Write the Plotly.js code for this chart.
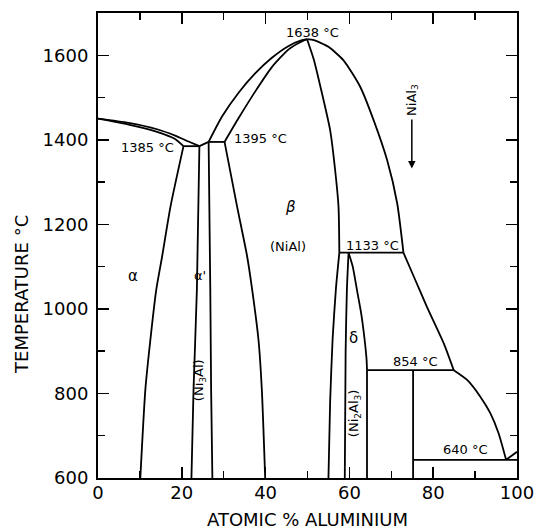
<!DOCTYPE html>
<html>
<head>
<meta charset="utf-8">
<script src="https://cdn.plot.ly/plotly-3.0.1.min.js"></script>
<style>html,body{margin:0;padding:0;background:#fff;}</style>
</head>
<body>
<div id="chart" style="width:539px;height:530px;"></div>
<script>
// Phase boundaries (x = atomic % Al, T = °C)
const alphaLiqX = [0, 7.3, 14.1, 18.4, 21.6, 24.2];
const alphaLiqT = [1450, 1440, 1425, 1410, 1396, 1385];
const alphaSolX = [0, 7.3, 14.1, 18.4, 20.4];
const alphaSolT = [1450, 1436, 1419, 1402, 1385];
const eutecticX = [20.4, 24.2];
const eutecticT = [1385, 1385];
const liqLinkX = [24.2, 26.4];
const liqLinkT = [1385, 1395];
const peritecticX = [26.4, 30.2];
const peritecticT = [1395, 1395];
const alphaSolvusX = [20.4, 17.3, 15.3, 13.9, 12.5, 11.3, 10.1];
const alphaSolvusT = [1385, 1242, 1124, 1045, 927, 809, 600];
const gammaLeftX = [24.2, 23.6, 22.8, 22.3];
const gammaLeftT = [1385, 1045, 809, 600];
const gammaRightX = [26.4, 26.8, 27.0, 27.3];
const gammaRightT = [1395, 1045, 809, 600];
const betaLeftX = [30.2, 33.2, 35.6, 36.8, 38.3, 39.1, 39.9];
const betaLeftT = [1395, 1242, 1124, 1045, 927, 809, 600];
const betaLiqLX = [26.4, 29.6, 33.6, 37.5, 41.5, 45.5, 48.5, 49.9];
const betaLiqLT = [1395, 1455, 1512, 1557, 1594, 1622, 1635, 1638];
const betaSolLX = [30.2, 33.6, 37.5, 41.5, 45.5, 48.5, 49.9];
const betaSolLT = [1395, 1452, 1514, 1572, 1614, 1632, 1638];
const betaRightUpX = [49.9, 51.5, 53.1, 55.4, 56.6, 57.4, 57.6];
const betaRightUpT = [1638, 1590, 1525, 1423, 1328, 1242, 1133];
const betaRightLowX = [57.6, 56.8, 56.0, 55.4, 55.0];
const betaRightLowT = [1133, 1050, 930, 780, 600];
const liqRightUpX = [49.9, 51.5, 53.0, 55.0, 58.6, 62.6, 65.8, 69.0, 71.4, 72.9];
const liqRightUpT = [1638, 1636, 1630, 1620, 1588, 1525, 1446, 1352, 1250, 1133];
const liqRightMidX = [72.9, 75.7, 78.5, 82.5, 84.9];
const liqRightMidT = [1133, 1069, 1005, 919, 855];
const liqRightLowX = [84.9, 88.1, 91.2, 93.6, 95.6, 97.4];
const liqRightLowT = [855, 832, 793, 754, 706, 643];
const alSideX = [97.4, 100];
const alSideT = [643, 662];
const iso1133X = [57.6, 72.9];
const iso1133T = [1133, 1133];
const iso854X = [64.2, 84.9];
const iso854T = [855, 855];
const iso640X = [75.2, 100];
const iso640T = [643, 643];
const niAl3X = [75.2, 75.2];
const niAl3T = [855, 600];
const ni2al3LeftX = [58.9, 59.1, 59.4, 59.8];
const ni2al3LeftT = [600, 900, 1045, 1133];
const ni2al3RightX = [59.8, 60.8, 61.8, 62.8, 63.6, 64.1, 64.2];
const ni2al3RightT = [1133, 1100, 1045, 990, 930, 880, 855];
const ni2al3VertX = [64.2, 64.2];
const ni2al3VertT = [855, 600];

// Tick values
const xTicks = [0, 20, 40, 60, 80, 100];
const xMinor = [10, 30, 50, 70, 90];
const yTicks = [600, 800, 1000, 1200, 1400, 1600];
const yMinor = [700, 900, 1100, 1300, 1500];

const curved = [
  [alphaLiqX, alphaLiqT], [alphaSolX, alphaSolT], [alphaSolvusX, alphaSolvusT],
  [gammaLeftX, gammaLeftT], [gammaRightX, gammaRightT], [betaLeftX, betaLeftT],
  [betaLiqLX, betaLiqLT], [betaSolLX, betaSolLT], [betaRightUpX, betaRightUpT],
  [betaRightLowX, betaRightLowT], [liqRightUpX, liqRightUpT], [liqRightMidX, liqRightMidT],
  [liqRightLowX, liqRightLowT], [ni2al3LeftX, ni2al3LeftT], [ni2al3RightX, ni2al3RightT]
];
const straight = [
  [eutecticX, eutecticT], [liqLinkX, liqLinkT], [peritecticX, peritecticT],
  [alSideX, alSideT], [iso1133X, iso1133T], [iso854X, iso854T], [iso640X, iso640T],
  [niAl3X, niAl3T], [ni2al3VertX, ni2al3VertT]
];

const traces = [];
curved.forEach(c => traces.push({
  x: c[0], y: c[1], type: 'scatter', mode: 'lines',
  line: {color: '#000', width: 1.8, shape: 'spline', smoothing: 0.6}, hoverinfo: 'skip', showlegend: false
}));
straight.forEach(c => traces.push({
  x: c[0], y: c[1], type: 'scatter', mode: 'lines',
  line: {color: '#000', width: 1.8}, hoverinfo: 'skip', showlegend: false
}));
// empty trace so the mirrored minor-tick axes are drawn
traces.push({x: [], y: [], type: 'scatter', mode: 'lines', xaxis: 'x2', yaxis: 'y2', hoverinfo: 'skip', showlegend: false});

const F = {family: 'DejaVu Sans', size: 13, color: '#000'};
const G = {family: 'DejaVu Sans', size: 15, color: '#000'};
const ann = (x, y, text, extra) => Object.assign({x, y, xref: 'x', yref: 'y', text, showarrow: false, font: F}, extra || {});

const annotations = [
  ann(11.9, 1383, '1385 °C'),
  ann(38.7, 1403, '1395 °C'),
  ann(51.3, 1655, '1638 °C'),
  ann(65.4, 1151, '1133 °C'),
  ann(75.7, 875, '854 °C'),
  ann(87.8, 667, '640 °C'),
  ann(45.9, 1242, '<i>β</i>', {font: G}),
  ann(45.4, 1147, '(NiAl)'),
  ann(8.3, 1078, 'α', {font: G}),
  ann(24.4, 1080, "α'", {font: F}),
  ann(24.4, 832, '(Ni<sub>3</sub>Al)', {textangle: -90}),
  ann(61.0, 931, 'δ', {font: G}),
  ann(61.4, 754, '(Ni<sub>2</sub>Al<sub>3</sub>)', {textangle: -90}),
  {x: 74.9, y: 1332, ax: 74.9, ay: 1494, axref: 'x', ayref: 'y', xref: 'x', yref: 'y',
   text: 'NiAl<sub>3</sub>', textangle: -90, font: F, standoff: 0, startstandoff: 2,
   showarrow: true, arrowhead: 2, arrowsize: 1, arrowwidth: 1.5, arrowcolor: '#000'},
  {xref: 'paper', yref: 'y', x: 0, xshift: -76, xanchor: 'center', yanchor: 'middle', y: 1033,
   text: 'TEMPERATURE °C', textangle: -90,
   showarrow: false, font: {family: 'DejaVu Sans', size: 18, color: '#000'}}
];

const axisCommon = {
  ticks: 'inside', ticklen: 11, tickwidth: 1.5, tickcolor: '#000',
  mirror: 'ticks', showline: true, linewidth: 2, linecolor: '#000',
  showgrid: false, zeroline: false,
  tickfont: {family: 'DejaVu Sans', size: 18, color: '#000'}
};
const minorAxis = {
  ticks: 'inside', ticklen: 7, tickwidth: 1.5, tickcolor: '#000',
  showticklabels: false, showgrid: false, zeroline: false, showline: false
};

const layout = {
  width: 539, height: 530,
  margin: {l: 98, r: 22, t: 13, b: 52},
  paper_bgcolor: '#fff', plot_bgcolor: '#fff',
  showlegend: false,
  font: {family: 'DejaVu Sans', color: '#000'},
  xaxis: Object.assign({}, axisCommon, {
    range: [0, 100], tickvals: xTicks, ticktext: xTicks.map(String), ticklabelstandoff: -3,
    minor: {tickvals: xMinor, ticks: 'inside', ticklen: 7, tickwidth: 1.5, tickcolor: '#000', showgrid: false},
    title: {text: 'ATOMIC % ALUMINIUM', standoff: 20, font: {family: 'DejaVu Sans', size: 18, color: '#000'}}
  }),
  yaxis: Object.assign({}, axisCommon, {
    range: [600, 1700], tickvals: yTicks, ticktext: yTicks.map(String), ticklabelstandoff: 4,
    minor: {tickvals: yMinor, ticks: 'inside', ticklen: 7, tickwidth: 1.5, tickcolor: '#000', showgrid: false}
  }),
  xaxis2: Object.assign({}, minorAxis, {overlaying: 'x', side: 'top', anchor: 'y2', range: [0, 100], tickvals: xMinor}),
  yaxis2: Object.assign({}, minorAxis, {overlaying: 'y', side: 'right', anchor: 'x2', range: [600, 1700], tickvals: yMinor}),
  annotations: annotations
};

Plotly.newPlot('chart', traces, layout, {displayModeBar: false, staticPlot: true});
</script>
</body>
</html>
